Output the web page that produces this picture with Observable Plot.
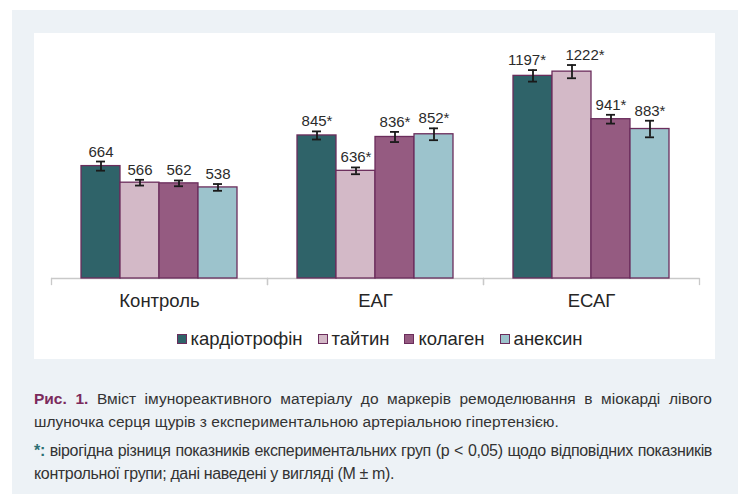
<!DOCTYPE html>
<html>
<head>
<meta charset="utf-8">
<script src="https://cdn.jsdelivr.net/npm/d3@7"></script>
<script src="https://cdn.jsdelivr.net/npm/@observablehq/plot@0.6"></script>
<style>
  html, body { margin: 0; padding: 0; background: #ffffff; width: 742px; height: 494px; overflow: hidden; }
  body { position: relative; font-family: "Liberation Sans", Arial, sans-serif; color: #262626; }
  #panel { position: absolute; left: 12px; top: 10px; width: 726px; height: 484px; background: #edf2f6; }
  #chartbox { position: absolute; left: 34px; top: 33px; width: 681px; height: 326px; background: #ffffff; }
  #chart { position: absolute; left: 0; top: 0; }
  #legend { position: absolute; left: 34px; top: 328px; width: 691px; height: 21px; display: flex; justify-content: center; align-items: center; font-size: 18.5px; color: #262626; }
  #legend .item { display: flex; align-items: center; margin: 0 7.5px; white-space: nowrap; }
  #legend .sw { display: inline-block; width: 8px; height: 8px; border: 1.5px solid #6b2d5c; margin-right: 4px; }
  #caption { position: absolute; left: 34px; top: 387px; width: 678px; color: #333333; }
  #caption .line { line-height: 23px; white-space: nowrap; }
  #caption .just { text-align: justify; text-align-last: justify; }
  #caption .p1 { font-size: 15.5px; }
  #caption .p2 { margin-top: 6px; font-size: 16px; }
  #caption .p2 .line { letter-spacing: -0.35px; }
  .fig { color: #7b2a5c; font-weight: bold; }
  .star { color: #2e6f73; font-weight: bold; }
</style>
</head>
<body>
<div id="panel"></div>
<div id="chartbox"><div id="chart"></div></div>
<div id="legend"></div>
<div id="caption">
  <div class="p1">
    <div class="line just"><span class="fig">Рис. 1.</span> Вміст імунореактивного матеріалу до маркерів ремоделювання в міокарді лівого</div>
    <div class="line">шлуночка серця щурів з експериментальною артеріальною гіпертензією.</div>
  </div>
  <div class="p2">
    <div class="line just"><span class="star">*:</span> вірогідна різниця показників експериментальних груп (р &lt; 0,05) щодо відповідних показників</div>
    <div class="line">контрольної групи; дані наведені у вигляді (М ± m).</div>
  </div>
</div>
<script>
// ---- data ----
const groups = ["Контроль", "ЕАГ", "ЕСАГ"];
const series = ["кардіотрофін", "тайтин", "колаген", "анексин"];
const cardiotrophin = [664, 845, 1197];
const titin = [566, 636, 1222];
const collagen = [562, 836, 941];
const annexin = [538, 852, 883];
const cardiotrophinErr = [27, 24, 34];
const titinErr = [17, 20, 39];
const collagenErr = [17, 30, 26];
const annexinErr = [20, 35, 49];
const significant = [false, true, true];
const colors = ["#2f6369", "#d3b9c7", "#955b81", "#9cc3cc"];

const valueSets = [cardiotrophin, titin, collagen, annexin];
const errSets = [cardiotrophinErr, titinErr, collagenErr, annexinErr];
const rows = [];
valueSets.forEach((vals, si) => vals.forEach((v, gi) => rows.push({
  group: groups[gi], series: series[si], value: v, err: errSets[si][gi],
  label: v + (significant[gi] ? "*" : "")
})));

// labels in the crowded last group were nudged apart in the original
const isLeftNudge = d => d.group === groups[2] && d.series === series[0];
const isRightNudge = d => d.group === groups[2] && d.series === series[1];
const plainLabels = rows.filter(d => !isLeftNudge(d) && !isRightNudge(d));

const errStroke = "#1a1a1a";
const labelOpts = { fx: "group", x: "series", y: d => d.value + d.err, text: "label", lineAnchor: "bottom", fontSize: 15, fill: "#2b2b2b" };
const chart = Plot.plot({
  width: 681,
  height: 290,
  marginLeft: 16,
  marginRight: 15,
  marginTop: 8,
  marginBottom: 45,
  style: { background: "transparent", fontFamily: "'Liberation Sans', Arial, sans-serif", overflow: "visible" },
  fx: { domain: groups, padding: 0, label: null },
  x: { domain: series, paddingInner: 0, paddingOuter: 0.743, axis: null },
  y: { domain: [0, 1400], axis: null },
  color: { domain: series, range: colors },
  marks: [
    Plot.ruleY([0], { stroke: "#c9c9c9", strokeWidth: 1.3 }),
    Plot.frame({ anchor: "left", stroke: "#c9c9c9", strokeWidth: 1.3, insetTop: 237, insetBottom: -6 }),
    Plot.frame({ anchor: "right", stroke: "#c9c9c9", strokeWidth: 1.3, insetTop: 237, insetBottom: -6 }),
    Plot.barY(rows, { fx: "group", x: "series", y: "value", fill: "series", stroke: "#6b2d5c", strokeWidth: 1.3 }),
    Plot.ruleX(rows, { fx: "group", x: "series", y1: d => d.value - d.err, y2: d => d.value + d.err, stroke: errStroke, strokeWidth: 1.8 }),
    Plot.tickY(rows, { fx: "group", x: "series", y: d => d.value - d.err, insetLeft: 15, insetRight: 15, stroke: errStroke, strokeWidth: 1.8 }),
    Plot.tickY(rows, { fx: "group", x: "series", y: d => d.value + d.err, insetLeft: 15, insetRight: 15, stroke: errStroke, strokeWidth: 1.8 }),
    Plot.text(plainLabels, { ...labelOpts, dy: -5 }),
    Plot.text(rows.filter(isLeftNudge), { ...labelOpts, dy: -5, dx: -6 }),
    Plot.text(rows.filter(isRightNudge), { ...labelOpts, dy: -5, dx: 13 }),
    Plot.axisFx({ anchor: "bottom", tickSize: 0, tickPadding: 15, fontSize: 18.5, fill: "#262626", label: null })
  ]
});
document.getElementById("chart").appendChild(chart);

// legend
const legend = document.getElementById("legend");
series.forEach((s, i) => {
  const item = document.createElement("span");
  item.className = "item";
  const sw = document.createElement("span");
  sw.className = "sw";
  sw.style.background = colors[i];
  item.appendChild(sw);
  item.appendChild(document.createTextNode(s));
  legend.appendChild(item);
});
</script>
</body>
</html>
